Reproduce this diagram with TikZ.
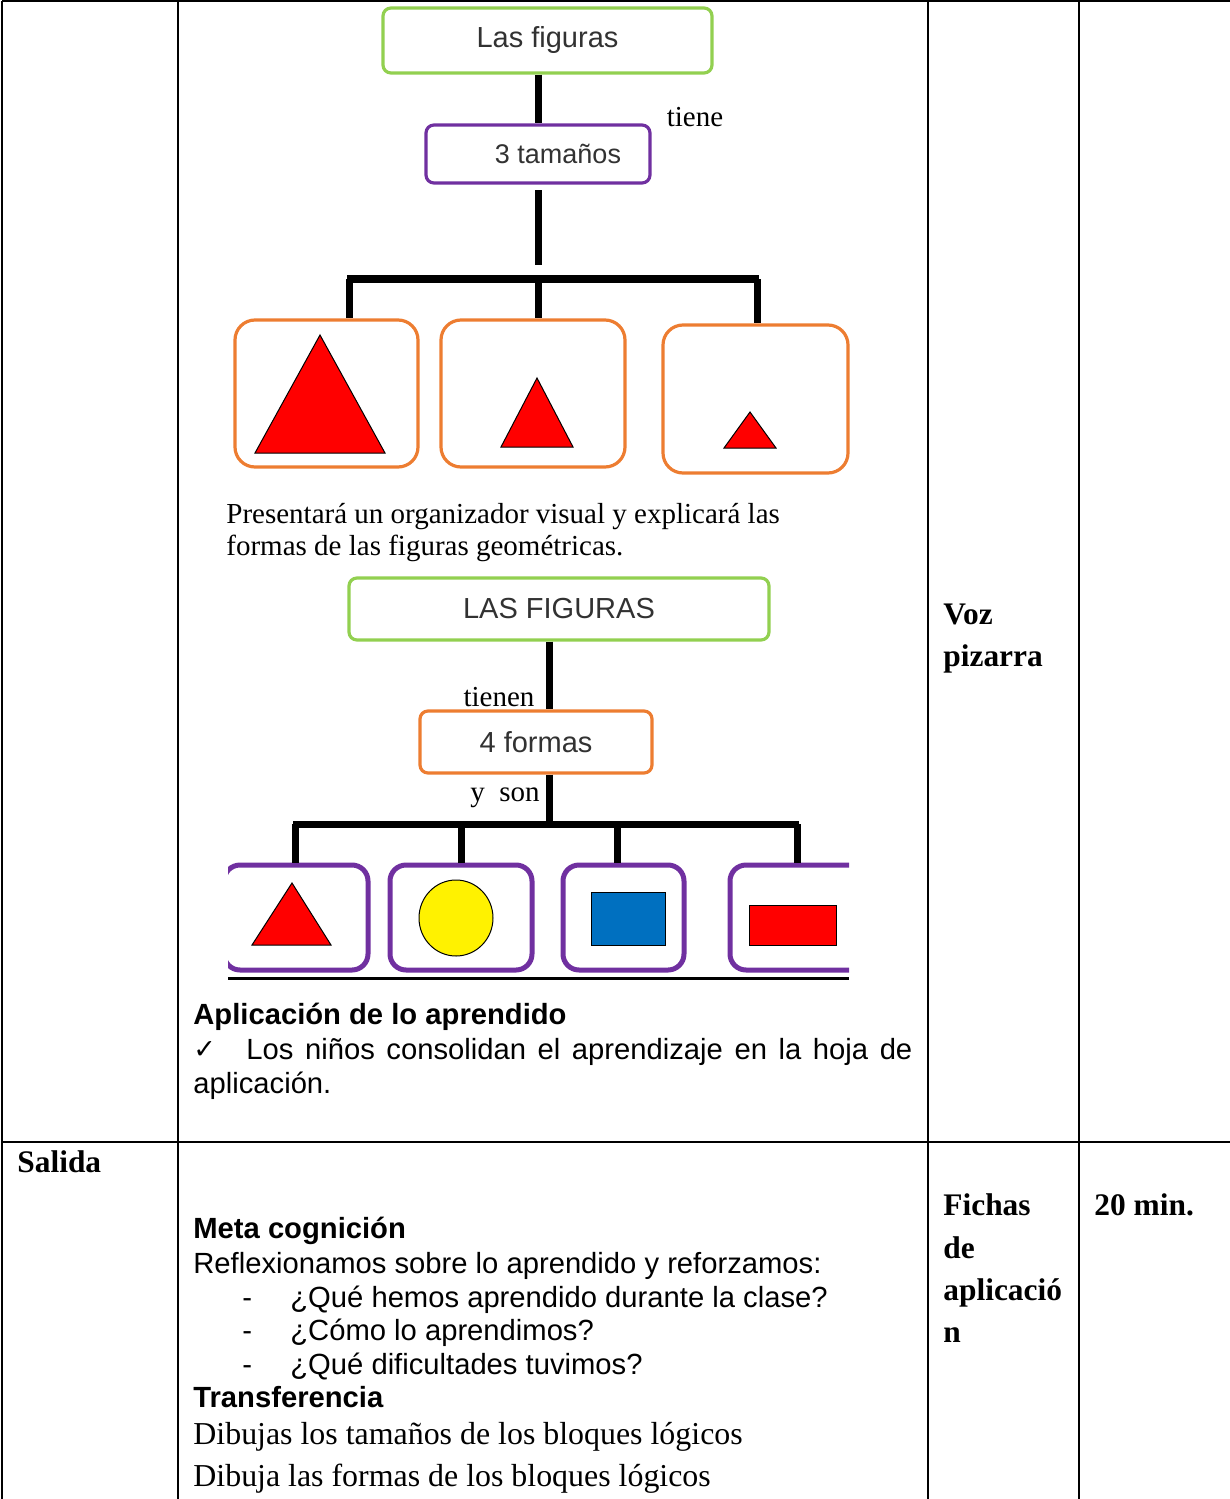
\documentclass[tikz,border=0pt]{standalone}
\usepackage{fontspec}
\setmainfont{Liberation Serif}
\newfontfamily\arialfont{Liberation Sans}
\newfontfamily\symbfont{DejaVu Sans}
\definecolor{mapgreen}{RGB}{146,208,80}
\definecolor{mappurple}{RGB}{112,48,160}
\definecolor{maporange}{RGB}{237,125,49}
\definecolor{mapblue}{RGB}{0,112,192}
\definecolor{maptext}{RGB}{50,50,50}
\tikzset{
	cell/.style={line width=1pt},
	link/.style={line width=3.5pt},
	mapbox/.style={draw, rounded corners=4pt, line width=1.6pt, fill=white, inner sep=0pt, text=maptext, font=\arialfont\fontsize{14.5}{17}\selectfont},
	sizebox/.style={draw=maporange, rounded corners=10pt, line width=1.6pt, inner sep=0pt, minimum height=73.5pt},
	formbox/.style={draw=mappurple, rounded corners=8pt, line width=2.5pt, inner sep=0pt, minimum height=52.5pt},
	linkword/.style={inner sep=0pt, font=\fontsize{14.5}{17}\selectfont},
	sanstxt/.style={anchor=base west, inner sep=0pt, font=\arialfont\fontsize{14.6}{17}\selectfont},
	sanshead/.style={anchor=base west, inner sep=0pt, font=\arialfont\bfseries\fontsize{14.6}{17}\selectfont},
	serifrow/.style={anchor=base west, inner sep=0pt, font=\fontsize{15.95}{18}\selectfont},
	colhead/.style={anchor=base west, inner sep=0pt, font=\bfseries\fontsize{15.7}{18}\selectfont}
}
\begin{document}
\begin{tikzpicture}[x=0.5pt, y=-0.5pt]
				\useasboundingbox (0,0) rectangle (1230,1499);
				% table
				\draw[cell] (2,1) -- (1230,1);
				\draw[cell] (2,1142) -- (1230,1142);
				\foreach \cx in {2, 178, 928, 1079}
					\draw[cell] (\cx,1) -- (\cx,1499);
				% sizes map
				\node[mapbox, draw=mapgreen, minimum width=164.5pt, minimum height=32.5pt] (LasFig)at(547.5, 40.5) {Las figuras};
				\node[mapbox, draw=mappurple, minimum width=112pt, minimum height=29pt, font=\arialfont\fontsize{13.5}{16}\selectfont] (Tam3)at(538, 154) {\hspace*{20pt}3 tamaños};
				\node[linkword] (tiene)at(695, 117) {tiene};
				\draw[link] (LasFig.south -| Tam3.north) -- (Tam3.north);
				\coordinate (stemA)at(538, 190);
				\coordinate (stemB)at(538, 265);
				\draw[link] (stemA) -- (stemB);
				\coordinate (barL)at(349, 279);
				\coordinate (barM)at(538, 279);
				\coordinate (barR)at(757, 279);
				\draw[link, line width=4pt] ([xshift=-1pt]barL) -- ([xshift=1pt]barR);
				\node[sizebox, minimum width=91.5pt] (Big)at(326.5, 393.5) {};
				\node[sizebox, minimum width=92pt] (Mid)at(533, 393.5) {};
				\node[sizebox, minimum width=92.5pt, minimum height=74pt] (Small)at(755.5, 399) {};
				\draw[link] (barL) -- (barL |- Big.north);
				\draw[link] (barM) -- (barM |- Mid.north);
				\draw[link] (barR) -- (barR |- Small.north);
				\draw[fill=red, line width=0.5pt] (255,453) -- (320,335) -- (385,453) -- cycle;
				\draw[fill=red, line width=0.5pt] (501,447) -- (537,378) -- (573,447) -- cycle;
				\draw[fill=red, line width=0.5pt] (724,448) -- (750,412) -- (776,448) -- cycle;
				\node[anchor=base west, inner sep=0pt, font=\fontsize{14.5}{17}\selectfont] (intro1)at(226, 523) {Presentará un organizador visual y explicará las};
				\node[anchor=base west, inner sep=0pt, font=\fontsize{14.5}{17}\selectfont] (intro2)at(226, 555) {formas de las figuras geométricas.};
				% forms map
				\node[mapbox, draw=mapgreen, minimum width=210pt, minimum height=31pt] (LasFig2)at(559, 609) {LAS FIGURAS};
				\node[mapbox, draw=maporange, minimum width=116pt, minimum height=31pt] (Formas4)at(536, 742) {4 formas};
				\coordinate (stemC)at(549, 0);
				\draw[link] (LasFig2.south -| stemC) -- (Formas4.north -| stemC);
				\node[linkword] (tienen)at(499, 697) {tienen};
				\node[linkword] (yson)at(505, 798) {y\,\,\,son};
				\coordinate (bar2L)at(295, 824);
				\coordinate (bar2A)at(461, 824);
				\coordinate (bar2B)at(617, 824);
				\coordinate (bar2R)at(797, 824);
				\draw[link] (Formas4.south -| stemC) -- (stemC |- bar2L);
				\draw[link] ([xshift=-1pt]bar2L) -- ([xshift=1pt]bar2R);
				\begin{scope}
					\clip (228,570) rectangle (849,985);
					\node[formbox, minimum width=72pt] (Tri)at(296, 917.5) {};
					\node[formbox, minimum width=71pt] (Circ)at(461, 917.5) {};
					\node[formbox, minimum width=60.5pt] (Sq)at(623.5, 917.5) {};
					\node[formbox, minimum width=71pt] (Rect)at(801, 917.5) {};
				\end{scope}
				\draw[link] (bar2L) -- (bar2L |- Tri.north);
				\draw[link] (bar2A) -- (bar2A |- Circ.north);
				\draw[link] (bar2B) -- (bar2B |- Sq.north);
				\draw[link] (bar2R) -- (bar2R |- Rect.north);
				\draw[fill=red, line width=0.5pt] (252,945) -- (292,883) -- (331,945) -- cycle;
				\draw[fill=yellow, line width=0.5pt] (456,918) ellipse [x radius=37, y radius=38];
				\draw[fill=mapblue, line width=0.5pt] (591,892) rectangle (665,945);
				\draw[fill=red, line width=0.5pt] (749,905) rectangle (836,945);
				\draw[line width=1.5pt] (228,978) -- (849,978);
				% activity text
				\node[sanshead] (aplic)at(193, 1024) {Aplicación de lo aprendido};
				\node[anchor=base west, inner sep=0pt, font=\symbfont\fontsize{13.5}{16}\selectfont] (check)at(193, 1058) {✓};
				\node[sanstxt] (ninos)at(246, 1059) {\makebox[333pt][s]{Los niños consolidan el aprendizaje en la hoja de}};
				\node[sanstxt] (aplic2)at(193, 1093) {aplicación.};
				\node[colhead] (voz)at(943, 624) {Voz};
				\node[colhead] (pizarra)at(943, 666) {pizarra};
				% second row
				\node[colhead] (salida)at(17, 1172) {Salida};
				\node[sanshead] (meta)at(193, 1238) {Meta cognición};
				\node[sanstxt] (reflex)at(193, 1273) {Reflexionamos sobre lo aprendido y reforzamos:};
				\foreach \qy/\qtext in {1307/{¿Qué hemos aprendido durante la clase?}, 1340/{¿Cómo lo aprendimos?}, 1374/{¿Qué dificultades tuvimos?}}{
					\node[sanstxt] at (242, \qy) {-};
					\node[sanstxt] at (290, \qy) {\qtext};
				}
				\node[sanshead] (transf)at(193, 1407) {Transferencia};
				\node[serifrow] (dib1)at(193, 1444) {Dibujas los tamaños de los bloques lógicos};
				\node[serifrow] (dib2)at(193, 1486) {Dibuja las formas de los bloques lógicos};
				\node[colhead] (fichas)at(943, 1215) {Fichas};
				\node[colhead] (de)at(943, 1258) {de};
				\node[colhead] (aplicacio)at(943, 1300) {aplicació};
				\node[colhead] (n)at(943, 1342) {n};
				\node[colhead] (min)at(1094, 1215) {20 min.};
			\end{tikzpicture}
\end{document}
